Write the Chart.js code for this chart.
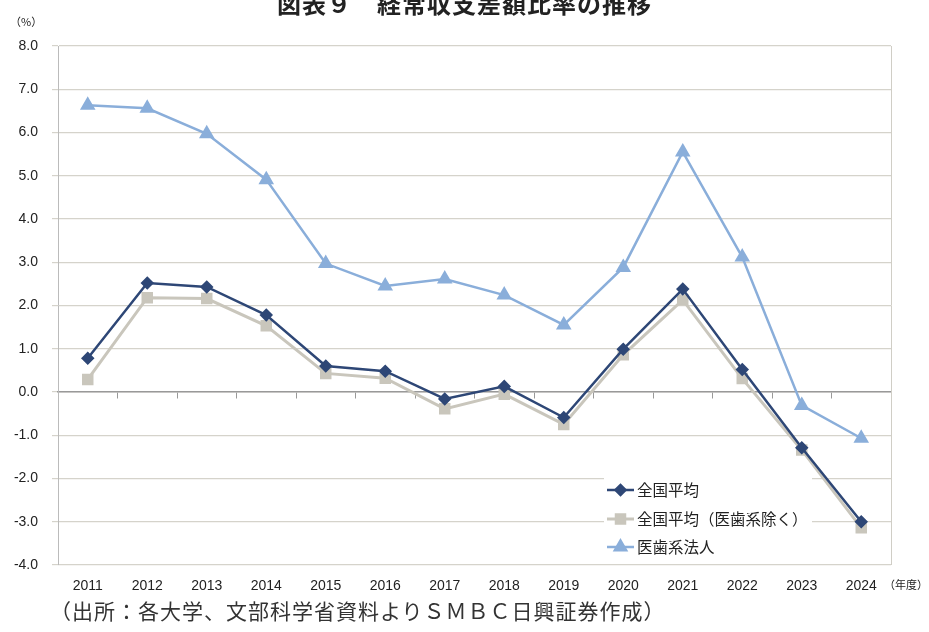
<!DOCTYPE html>
<html>
<head>
<meta charset="utf-8">
<script src="https://cdn.jsdelivr.net/npm/chart.js@4"></script>
<style>
  body { margin: 0; background: #fff; }
  #wrap { position: relative; width: 929px; height: 632px; overflow: hidden; }
  #title { position: absolute; left: 0; width: 929px; top: -15px; text-align: center;
    font: bold 24px "Noto Sans CJK JP"; color: #222; letter-spacing: 1px; }
  #unit { position: absolute; left: 10px; top: 13px; font: 11px "Noto Sans CJK JP"; color: #222; }
  #nendo { position: absolute; left: 884px; top: 576px; font: 11px "Noto Sans CJK JP"; color: #222; }
  #src { position: absolute; left: 50px; top: 595px; font: 21px "Noto Sans CJK JP"; color: #333; letter-spacing: 1px; }
</style>
</head>
<body>
<div id="wrap">
  <canvas id="chart1" width="929" height="632"></canvas>
  <div id="title">図表９　経常収支差額比率の推移</div>
  <div id="unit">（%）</div>
  <div id="nendo">（年度）</div>
  <div id="src">（出所：各大学、文部科学省資料よりＳＭＢＣ日興証券作成）</div>
</div>
<script>
// years
var labels = ['2011','2012','2013','2014','2015','2016','2017','2018','2019','2020','2021','2022','2023','2024'];

// 全国平均
var zenkoku = [0.78, 2.52, 2.43, 1.78, 0.60, 0.48, -0.16, 0.13, -0.59, 0.99, 2.38, 0.52, -1.29, -3.00];
// 全国平均（医歯系除く）
var zenkokuExcl = [0.29, 2.18, 2.16, 1.53, 0.43, 0.32, -0.39, -0.05, -0.75, 0.86, 2.13, 0.31, -1.34, -3.14];
// 医歯系法人
var ishi = [6.63, 6.56, 5.97, 4.91, 2.97, 2.45, 2.61, 2.24, 1.55, 2.88, 5.55, 3.12, -0.31, -1.07];

var navy = '#2E4776';
var gray = '#C9C6BC';
var blue = '#8AAEDA';

// legend inside the plot + right border
var extras = {
  id: 'extras',
  beforeDatasetsDraw: function(chart) {
    var ctx = chart.ctx, a = chart.chartArea;
    ctx.save();
    ctx.strokeStyle = '#D0CEC6';
    ctx.lineWidth = 1;
    ctx.beginPath();
    ctx.moveTo(a.right + 0.5, a.top);
    ctx.lineTo(a.right + 0.5, a.bottom);
    ctx.stroke();
    ctx.restore();
  },
  afterDatasetsDraw: function(chart) {
    var ctx = chart.ctx;
    ctx.save();
    ctx.fillStyle = '#fff';
    ctx.fillRect(604, 478, 208, 80);
    var ys = [490, 519, 547];
    chart.data.datasets.forEach(function(ds, i) {
      var y = ys[i];
      ctx.strokeStyle = ds.borderColor;
      ctx.lineWidth = ds.borderWidth;
      ctx.beginPath();
      ctx.moveTo(607, y);
      ctx.lineTo(634, y);
      ctx.stroke();
      ctx.fillStyle = ds.backgroundColor;
      ctx.strokeStyle = ds.backgroundColor;
      Chart.helpers.drawPoint(ctx, {pointStyle: ds.pointStyle, radius: ds.pointRadius, borderWidth: 1}, 620.5, y);
      ctx.fillStyle = '#222';
      ctx.font = '15.5px "Noto Sans CJK JP"';
      ctx.textBaseline = 'middle';
      ctx.fillText(ds.label, 637, y);
    });
    ctx.restore();
  }
};

const data = {
  labels: labels,
  datasets: [{
    label: '全国平均',
    data: zenkoku,
    borderColor: navy,
    backgroundColor: navy,
    borderWidth: 2.5,
    pointStyle: 'rectRot',
    pointRadius: 5,
    order: 1
  }, {
    label: '全国平均（医歯系除く）',
    data: zenkokuExcl,
    borderColor: gray,
    backgroundColor: gray,
    borderWidth: 3,
    pointStyle: 'rect',
    pointRadius: 6,
    order: 2
  }, {
    label: '医歯系法人',
    data: ishi,
    borderColor: blue,
    backgroundColor: blue,
    borderWidth: 2.5,
    pointStyle: 'triangle',
    pointRadius: 6.5,
    order: 0
  }]
};

const config = {
  type: 'line',
  data: data,
  options: {
    responsive: false,
    animation: false,
    layout: { padding: { left: 0, right: 38, top: 46, bottom: 0 } },
    elements: { line: { tension: 0 }, point: { borderWidth: 1 } },
    plugins: { legend: { display: false }, tooltip: { enabled: false } },
    scales: {
      x: {
        position: 'bottom',
        offset: true,
        grid: { display: false },
        border: { display: false },
        ticks: { color: '#222', font: { family: 'Liberation Sans', size: 14 }, padding: 5, maxRotation: 0 },
        afterFit: function(s) { s.height = 67; }
      },
      x2: {
        position: { y: 0 },
        offset: true,
        grid: { drawOnChartArea: false, color: '#999', tickLength: 6, offset: true },
        border: { display: true, color: '#999', width: 1.5 },
        ticks: { display: false }
      },
      y: {
        min: -4, max: 8,
        ticks: {
          stepSize: 1,
          color: '#222',
          font: { family: 'Liberation Sans', size: 14 },
          padding: 14,
          callback: function(v) { return v.toFixed(1); }
        },
        grid: { color: '#D5D3CB', lineWidth: 1.2, tickLength: 6 },
        border: { display: true, color: '#BBBBBB' },
        afterFit: function(s) { s.width = 58; }
      }
    }
  },
  plugins: [extras]
};

const myChart = new Chart(document.getElementById('chart1'), config);
</script>
</body>
</html>
